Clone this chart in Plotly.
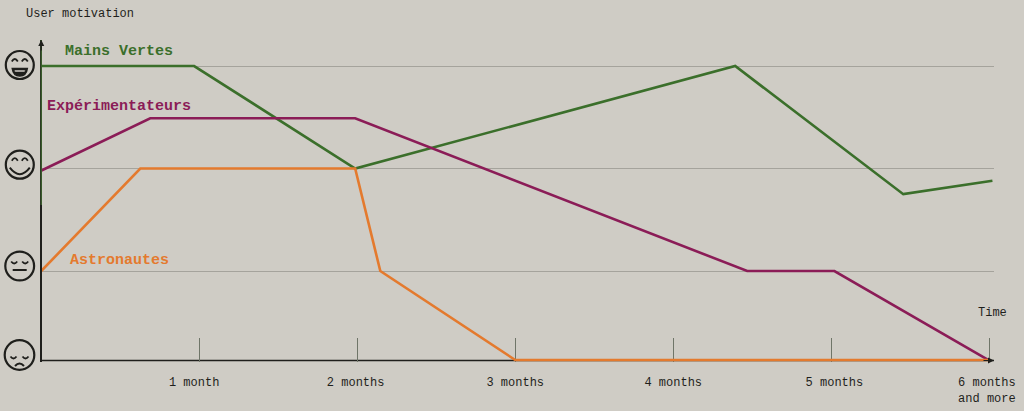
import plotly.graph_objects as go

BG = "#cfccc5"
INK = "#1f1f1c"
GRID = "#a5a39c"
FONT = "Liberation Mono"

green_x = [0, 0.968, 1.987, 4.392, 5.456, 6.02]
green_y = [3, 3, 2, 3, 1.75, 1.88]
purple_x = [0, 0.69, 1.987, 4.468, 5.02, 5.99]
purple_y = [1.98, 2.49, 2.49, 1, 1, 0.135]
orange_x = [0, 0.627, 1.987, 2.146, 3.0, 6.0]
orange_y = [1, 2, 2, 1, 0.132, 0.132]

month_ticks = [1, 2, 3, 4, 5, 6]
month_label_x = [0.968, 1.99, 3.0, 4.0, 5.02, 5.985]
month_labels = ["1 month", "2 months", "3 months", "4 months", "5 months", "6 months<br>and more"]
level_ticks = [1, 2, 3]

GREEN = "#3b6f2b"
PURPLE = "#8b1c57"
ORANGE = "#e47a2e"

L, T, W, H = 42, 40, 952, 322


def px(x):
    return (x - L) / W


def py(y):
    return (T + H - y) / H


def pth(cx, cy, cmds):
    """Icon outline: cmds are (letter, dx, dy, ...) offsets from the icon's centre."""
    out = []
    for c in cmds:
        nums = c[1:]
        pts = [f"{px(cx + nums[i]):.5f},{py(cy + nums[i + 1]):.5f}" for i in range(0, len(nums), 2)]
        out.append(c[0] + " " + " ".join(pts))
    return " ".join(out)


shapes = []


def stroke(cx, cy, cmds, w=2.0, fill=None):
    s = dict(type="path", xref="paper", yref="paper", path=pth(cx, cy, cmds), line=dict(color=INK, width=w))
    if fill:
        s["fillcolor"] = fill
    shapes.append(s)


def circle(cx, cy, r):
    shapes.append(dict(type="circle", xref="paper", yref="paper", x0=px(cx - r), x1=px(cx + r),
                       y0=py(cy + r), y1=py(cy - r), line=dict(color=INK, width=2.2)))


def eyes(cx, cy, dx, dy, bend):
    for s in (-1, 1):
        stroke(cx, cy, [("M", s * dx - 3, dy), ("Q", s * dx, dy + bend, s * dx + 3, dy)], 1.8)


# laughing
circle(19.8, 65, 14)
eyes(19.8, 65, 5, -3.5, -5)
stroke(19.8, 65, [("M", -7.5, 3.5), ("L", 7.5, 3.5), ("Q", 6.5, 11, 0, 11), ("Q", -6.5, 11, -7.5, 3.5), ("Z",)], 1.6, INK)
stroke(19.8, 65, [("M", -5.5, 5), ("L", 5.5, 5), ("L", 5, 7), ("L", -5, 7), ("Z",)], 0.5, BG)
# smiling
circle(19.8, 164.7, 14)
eyes(19.8, 164.7, 5, -4, -5)
stroke(19.8, 164.7, [("M", -10, 3), ("Q", 0, 16, 10, 3)], 2.0)
# neutral, eyes closed
circle(19.7, 266, 14.4)
eyes(19.7, 266, 5.5, -4.5, 4)
stroke(19.7, 266, [("M", -7, 4), ("L", 7, 4)], 2.0)
# sad
circle(19.5, 355, 14.8)
eyes(19.5, 355, 6, 1.5, 4)
stroke(19.5, 355, [("M", -4.5, 11), ("Q", 0, 6, 4.5, 11)], 2.0)

# horizontal axis sits under the curves; upper vertical axis carries the green tint
shapes.append(dict(type="line", xref="paper", yref="paper", x0=px(40.5), x1=1, y0=py(360.6), y1=py(360.6),
                   line=dict(color=INK, width=1.5), layer="below"))
shapes.append(dict(type="line", xref="paper", yref="paper", x0=px(41.25), x1=px(41.25), y0=py(205), y1=1,
                   line=dict(color="#3a5a2c", width=1.5)))

fig = go.Figure()
for name, xs, ys, col in [
    ("Mains Vertes", green_x, green_y, GREEN),
    ("Expérimentateurs", purple_x, purple_y, PURPLE),
    ("Astronautes", orange_x, orange_y, ORANGE),
]:
    fig.add_trace(go.Scatter(x=xs, y=ys, mode="lines", name=name, cliponaxis=False,
                             line=dict(color=col, width=2.6)))

anns = []
for name, x, y, col in [
    ("Mains Vertes", 0.152, 3.146, GREEN),
    ("Expérimentateurs", 0.038, 2.605, PURPLE),
    ("Astronautes", 0.184, 1.10, ORANGE),
]:
    anns.append(dict(x=x, y=y, text=f"<b>{name}</b>", showarrow=False, xanchor="left", yanchor="middle",
                     font=dict(family=FONT, size=15, color=col), xshift=-2))
anns.append(dict(x=px(24), xref="paper", y=py(14), yref="paper", text="User motivation", showarrow=False,
                 xanchor="left", yanchor="middle", font=dict(family=FONT, size=12, color=INK)))
anns.append(dict(x=6.02, y=0.59, text="Time", showarrow=False, xanchor="center", yanchor="middle",
                 font=dict(family=FONT, size=12, color=INK)))
# axis arrow heads
anns.append(dict(x=px(41.25), xref="paper", y=1, yref="paper", ax=0, ay=12, text="", showarrow=True, arrowhead=2,
                 arrowsize=1, arrowwidth=1.2, arrowcolor=INK))
anns.append(dict(x=1, xref="paper", y=py(360.5), yref="paper", ax=-12, ay=0, text="", showarrow=True, arrowhead=2,
                 arrowsize=1, arrowwidth=1.2, arrowcolor=INK))

fig.update_layout(
    width=1024, height=411, paper_bgcolor=BG, plot_bgcolor=BG, showlegend=False,
    margin=dict(l=L, r=1024 - L - W, t=T, b=411 - T - H), annotations=anns, shapes=shapes,
    xaxis=dict(range=[0.005, 6.03], tickvals=month_label_x, ticktext=month_labels, ticks="", layer="below traces",
               minor=dict(tickvals=month_ticks, ticks="inside", ticklen=24, tickcolor="#6f7568", tickwidth=1, showgrid=False),
               showgrid=False, zeroline=False, showline=False,
               ticklabelstandoff=11, automargin=False, tickfont=dict(family=FONT, size=12, color=INK)),
    yaxis=dict(range=[0.1125, 3.254], tickvals=level_ticks, showticklabels=False, ticks="", showgrid=True,
               gridcolor=GRID, gridwidth=1.3, zeroline=False, showline=True, linecolor=INK, linewidth=1.5,
               automargin=False),
)
fig.write_html("out.html", config={"displayModeBar": False},
               post_script="document.body.style.margin='0';document.body.style.background='#cfccc5';")
